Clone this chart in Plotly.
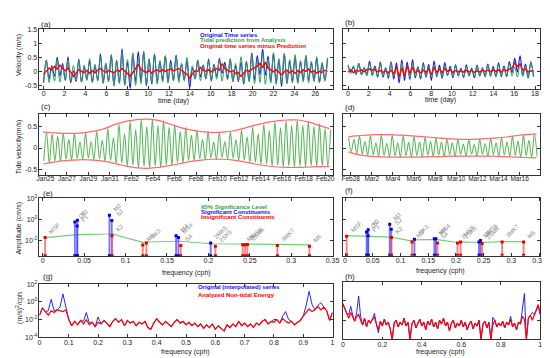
import math
import plotly.graph_objects as go

W, H = 550, 358
FONT = "Liberation Sans, Arial, sans-serif"

# ---------------- data ----------------
HALF = 0.2588  # days between successive tidal extremes (half an M2 cycle)

# (a) tidal prediction extremes [m/s], from day 0 (low, high, low, high ...)
tide_a = [-0.30, 0.40, -0.40, 0.15, -0.35, 0.42, -0.38, 0.18, -0.33, 0.40,
          -0.36, 0.20, -0.30, 0.38, -0.38, 0.22, -0.32, 0.45, -0.40, 0.25,
          -0.35, 0.52, -0.43, 0.30, -0.38, 0.60, -0.47, 0.35, -0.42, 0.70,
          -0.50, 0.42, -0.45, 0.66, -0.50, 0.45, -0.44, 0.70, -0.48, 0.42,
          -0.40, 0.60, -0.45, 0.38, -0.38, 0.55, -0.42, 0.30, -0.34, 0.52,
          -0.40, 0.25, -0.30, 0.50, -0.36, 0.20, -0.28, 0.40, -0.34, 0.18,
          -0.27, 0.38, -0.33, 0.20, -0.28, 0.42, -0.35, 0.22, -0.30, 0.45,
          -0.38, 0.28, -0.33, 0.52, -0.40, 0.32, -0.36, 0.58, -0.44, 0.38,
          -0.40, 0.65, -0.46, 0.42, -0.42, 0.66, -0.47, 0.45, -0.42, 0.64,
          -0.45, 0.42, -0.40, 0.60, -0.43, 0.38, -0.38, 0.56, -0.41, 0.35,
          -0.36, 0.52, -0.40, 0.32, -0.35, 0.48]
# (a) residual (original minus prediction) [m/s] at the same times
resid_a = [-0.10, 0.00, 0.12, 0.05, 0.18, 0.08, 0.22, 0.10, 0.02, 0.12,
           -0.05, -0.18, -0.06, 0.06, 0.00, -0.04, 0.03, -0.07, 0.02, -0.05,
           0.04, 0.10, 0.02, -0.04, 0.03, -0.02, -0.05, 0.04, 0.00, 0.10,
           0.02, -0.08, -0.17, -0.05, 0.12, 0.25, 0.06, 0.00, -0.04, 0.03,
           -0.06, 0.02, 0.05, -0.02, 0.06, 0.00, 0.04, 0.09, 0.02, 0.06,
           0.10, 0.03, -0.03, -0.10, -0.24, -0.08, 0.02, 0.00, 0.14, 0.04,
           0.00, 0.06, -0.02, 0.05, 0.10, 0.04, 0.28, 0.10, 0.04, -0.02,
           0.03, -0.08, -0.04, -0.18, -0.06, 0.04, 0.00, 0.08, 0.12, 0.18,
           0.28, 0.14, 0.32, 0.12, 0.05, -0.02, 0.06, -0.04, -0.12, -0.02,
           0.04, -0.05, 0.02, -0.08, 0.03, -0.04, 0.06, 0.00, 0.08, -0.03,
           0.02, -0.06, 0.00, -0.04, 0.04, 0.00]

# (b)/(d) tidal prediction extremes [m/s] (high, low, high, low ...)
tide_bd = [0.24, -0.08, 0.20, -0.13, 0.28, -0.14, 0.15, -0.17, 0.29, -0.16,
           0.12, -0.19, 0.30, -0.17, 0.11, -0.20, 0.30, -0.18, 0.12, -0.21,
           0.29, -0.18, 0.13, -0.21, 0.27, -0.18, 0.14, -0.21, 0.25, -0.17,
           0.15, -0.20, 0.23, -0.16, 0.14, -0.20, 0.21, -0.15, 0.12, -0.19,
           0.20, -0.14, 0.09, -0.19, 0.19, -0.14, 0.08, -0.19, 0.20, -0.14,
           0.10, -0.19, 0.22, -0.15, 0.12, -0.19, 0.24, -0.16, 0.14, -0.20,
           0.27, -0.17, 0.16, -0.21, 0.30, -0.18, 0.18, -0.22, 0.32, -0.19]
# (b) residual [m/s]
resid_b = [-0.03, 0.06, -0.05, 0.04, 0.00, 0.05, -0.02, 0.06, 0.08, 0.03,
           0.07, -0.02, 0.03, -0.04, 0.02, -0.05, 0.04, -0.10, 0.18, -0.20,
           0.12, -0.15, 0.20, -0.08, 0.15, -0.05, 0.03, -0.06, 0.05, -0.04,
           0.10, -0.12, 0.14, -0.03, 0.08, -0.05, 0.10, 0.00, 0.06, -0.04,
           0.03, -0.02, 0.02, -0.03, 0.04, -0.02, 0.03, -0.04, 0.02, -0.02,
           0.03, 0.00, 0.04, -0.02, 0.05, 0.00, 0.06, -0.03, 0.05, 0.02,
           0.08, 0.12, 0.30, 0.18, 0.25, 0.05, 0.08, -0.02, 0.02, 0.00]

# (c) tidal prediction extremes [m/s] (low, high ...) starting Jan 24.85
tide_c = [-0.30, 0.36, -0.35, 0.33, -0.30, 0.27, -0.31, 0.34, -0.26, 0.20,
          -0.28, 0.34, -0.24, 0.14, -0.27, 0.35, -0.23, 0.15, -0.28, 0.39,
          -0.25, 0.18, -0.31, 0.45, -0.29, 0.24, -0.36, 0.55, -0.35, 0.33,
          -0.42, 0.62, -0.40, 0.42, -0.46, 0.66, -0.43, 0.50, -0.47, 0.67,
          -0.42, 0.52, -0.45, 0.64, -0.39, 0.48, -0.41, 0.55, -0.34, 0.38,
          -0.35, 0.48, -0.29, 0.30, -0.30, 0.41, -0.25, 0.20, -0.28, 0.38,
          -0.23, 0.14, -0.26, 0.36, -0.22, 0.15, -0.26, 0.38, -0.24, 0.19,
          -0.29, 0.42, -0.28, 0.26, -0.33, 0.48, -0.33, 0.33, -0.38, 0.55,
          -0.37, 0.40, -0.42, 0.61, -0.40, 0.47, -0.44, 0.64, -0.42, 0.52,
          -0.45, 0.65, -0.42, 0.53, -0.44, 0.62, -0.41, 0.50, -0.43, 0.56,
          -0.41, 0.45, -0.43, 0.43]
START_C = 24.85   # day of year (Jan 24.85)
START_D = 58.80   # day of year (Feb 27.8)

# (c) envelope [m/s]
env_c_day = [24.8, 25.5, 26.5, 27.5, 28.5, 29.5, 30.5, 31.5, 32.5, 33.5, 34.5, 35.5, 36.5, 37.5,
             38.5, 39.5, 40.5, 41.5, 42.5, 43.5, 44.5, 45.5, 46.5, 47.5, 48.5, 49.5, 50.5, 51.4]
env_c_up = [0.37, 0.36, 0.34, 0.34, 0.35, 0.39, 0.45, 0.55, 0.62, 0.66, 0.67, 0.64, 0.56, 0.48,
            0.42, 0.38, 0.36, 0.37, 0.40, 0.46, 0.53, 0.59, 0.63, 0.65, 0.65, 0.60, 0.52, 0.45]
env_c_lo = [-0.37, -0.34, -0.30, -0.28, -0.27, -0.28, -0.31, -0.36, -0.42, -0.46, -0.47, -0.45, -0.41, -0.36,
            -0.31, -0.28, -0.26, -0.26, -0.28, -0.32, -0.37, -0.41, -0.44, -0.45, -0.45, -0.44, -0.43, -0.43]
# (d) envelope [m/s]
env_d_day = [58.8, 59.5, 60.5, 61.5, 62.5, 63.5, 64.5, 65.5, 66.5, 67.5, 68.5, 69.5, 70.5, 71.5,
             72.5, 73.5, 74.5, 75.5, 76.6]
env_d_up = [0.26, 0.28, 0.30, 0.31, 0.31, 0.30, 0.29, 0.27, 0.25, 0.23, 0.21, 0.20, 0.20, 0.21,
            0.23, 0.25, 0.28, 0.31, 0.33]
env_d_lo = [-0.09, -0.14, -0.18, -0.20, -0.21, -0.21, -0.21, -0.21, -0.20, -0.20, -0.19, -0.19, -0.19, -0.19,
            -0.19, -0.20, -0.21, -0.22, -0.23]

date_ticks_c = [25, 27, 29, 31, 33, 35, 37, 39, 41, 43, 45, 47, 49, 51]
date_labels_c = ["Jan25", "Jan27", "Jan29", "Jan31", "Feb2", "Feb4", "Feb6", "Feb8", "Feb10",
                 "Feb12", "Feb14", "Feb16", "Feb18", "Feb20"]
date_ticks_d = [59, 61, 63, 65, 67, 69, 71, 73, 75]
date_labels_d = ["Feb28", "Mar2", "Mar4", "Mar6", "Mar8", "Mar10", "Mar12", "Mar14", "Mar16"]

# (e)/(f) constituents
const_names = ["MSF", "O1", "P1", "K1", "M2", "S2", "K2", "M3", "SK3", "M4", "MS4", "S4",
               "2MK5", "2SK5", "M6", "2MS6", "2SM6", "3MK7", "M8"]
const_freq = [0.00282, 0.03873, 0.04155, 0.04178, 0.08051, 0.08333, 0.08356, 0.12077, 0.12511,
              0.16102, 0.16384, 0.16667, 0.20280, 0.20845, 0.24153, 0.24436, 0.24718, 0.28331, 0.32205]
amp_e = [0.020, 0.575, 0.245, 0.87, 2.51, 0.81, 0.029, 0.0040, 0.0060, 0.029, 0.020, 0.0035,
         0.0060, 0.0030, 0.0043, 0.0043, 0.0045, 0.0035, 0.0030]
sig_e = [0.020, 0.035, 0.038, 0.038, 0.044, 0.045, 0.045, 0.0071, 0.0076, 0.0089, 0.0089, 0.0089,
         0.0052, 0.0052, 0.0050, 0.0050, 0.0050, 0.0045, 0.0040]
amp_f = [0.025, 0.063, 0.028, 0.10, 0.34, 0.117, 0.019, 0.0069, 0.0126, 0.0141, 0.0141, 0.0056,
         0.0056, 0.0069, 0.0071, 0.0100, 0.0050, 0.0069, 0.0069]
sig_f = [0.028, 0.025, 0.024, 0.024, 0.021, 0.020, 0.020, 0.0087, 0.0112, 0.0126, 0.0126, 0.0120,
         0.0063, 0.0071, 0.0063, 0.0063, 0.0063, 0.0076, 0.0076]

# (g)/(h) spectra: log10 of spectral density [(m/s)^2/cph], every 0.01 cph from 0 to 1
log_red_g = [-1.5, -0.7, -1.1, -1.5, -1.0, -1.2, -0.9, -1.0, -1.1, -0.9,
             -2.0, -2.7, -2.2, -2.6, -2.1, -2.5, -2.0, -2.6, -2.3, -2.8,
             -2.3, -2.5, -2.1, -2.4, -2.8, -2.2, -1.9, -2.3, -2.0, -2.7,
             -2.1, -2.4, -2.2, -2.7, -2.3, -2.5, -2.2, -2.9, -3.1, -2.4,
             -1.9, -2.3, -2.6, -2.2, -2.5, -2.8, -2.3, -2.0, -2.4, -2.2,
             -2.6, -2.3, -2.7, -2.4, -2.8, -2.5, -3.0, -2.6, -2.9, -2.5,
             -3.1, -2.7, -3.0, -3.3, -2.6, -2.9, -2.5, -2.8, -2.2, -2.7,
             -2.4, -2.8, -2.5, -2.9, -2.4, -2.6, -2.2, -2.0, -2.5, -2.2,
             -2.3, -2.0, -2.4, -1.9, -2.2, -2.4, -2.2, -2.6, -2.3, -2.1,
             -1.6, -1.2, -0.8, -1.1, -0.9, -0.5, -0.9, -0.6, -1.0, -2.1,
             -1.2]
log_blue_g = [-1.5, -0.7, -1.1, -1.0, 0.3, -1.0, -0.9, -0.6, 0.9, -0.7,
              -2.0, -2.7, -2.2, -2.6, -2.1, -2.2, -1.2, -2.4, -2.3, -2.8,
              -1.7, -2.5, -2.1, -2.4, -2.8, -2.2, -1.9, -2.3, -2.0, -2.7,
              -2.1, -2.4, -2.2, -2.7, -2.3, -2.5, -2.2, -2.9, -3.1, -2.4,
              -1.9, -2.3, -2.6, -2.2, -2.5, -2.8, -2.3, -2.0, -2.4, -2.2,
              -2.6, -2.3, -2.7, -2.4, -2.8, -2.5, -3.0, -2.6, -2.9, -2.5,
              -3.1, -2.7, -3.0, -3.3, -2.6, -2.9, -2.5, -2.8, -2.2, -2.7,
              -2.4, -2.8, -2.5, -2.9, -2.4, -2.6, -2.2, -2.0, -2.5, -2.2,
              -2.0, -2.0, -2.4, -1.6, -1.1, -2.0, -2.2, -2.6, -2.3, -2.1,
              -1.6, -0.4, 1.2, -0.3, -0.9, -0.4, -0.1, -0.5, -1.0, -2.1,
              -1.2]
log_red_h = [-0.3, -0.8, -1.3, -1.8, -1.2, -1.7, -2.1, -1.6, -1.4, -2.0,
             -2.5, -1.8, -2.7, -2.0, -2.3, -1.9, -1.7, -2.4, -3.0, -2.1,
             -2.6, -1.9, -2.5, -2.2, -2.9, -4.0, -2.3, -2.0, -2.7, -2.2,
             -2.5, -1.8, -2.6, -2.2, -4.0, -2.4, -2.0, -2.8, -2.3, -1.9,
             -2.6, -2.2, -3.0, -2.1, -2.5, -1.9, -2.7, -2.2, -2.9, -2.0,
             -2.4, -1.8, -2.6, -2.2, -3.1, -2.3, -2.0, -2.8, -2.3, -2.6,
             -2.0, -2.7, -2.2, -3.0, -2.4, -2.1, -2.9, -2.3, -2.6, -2.0,
             -4.0, -2.4, -2.1, -2.8, -2.2, -4.0, -2.5, -2.0, -2.7, -2.3,
             -2.6, -2.1, -2.8, -2.2, -2.5, -1.9, -2.7, -2.3, -3.0, -2.2,
             -2.4, -1.6, -1.9, -4.0, -1.8, -1.5, -2.0, -1.4, -1.0, -0.4,
             -1.4]
log_blue_h = [-0.3, -0.8, -1.3, -1.4, -0.57, -1.5, -2.1, -1.2, 0.5, -1.6,
              -2.5, -1.8, -2.7, -2.0, -2.3, -1.9, -1.3, -2.4, -3.3, -2.1,
              -2.6, -1.9, -2.5, -2.2, -2.9, -4.0, -2.3, -2.0, -2.7, -2.2,
              -2.5, -1.8, -2.6, -2.2, -4.0, -2.4, -2.0, -2.8, -2.3, -1.9,
              -2.6, -2.2, -3.0, -2.1, -2.5, -1.9, -2.7, -2.2, -2.9, -2.0,
              -2.4, -1.8, -2.6, -2.2, -3.1, -2.3, -2.0, -2.8, -2.3, -2.6,
              -2.0, -2.7, -2.2, -3.0, -2.4, -2.1, -2.9, -2.3, -2.6, -2.0,
              -4.0, -2.4, -2.1, -2.8, -2.2, -4.0, -1.7, -2.0, -2.7, -2.3,
              -2.6, -2.1, -2.8, -2.2, -2.5, -1.6, -2.7, -2.3, -3.0, -2.2,
              -2.4, -1.0, 0.76, -4.0, -1.8, -1.5, -1.2, -1.4, -1.0, -0.4,
              -1.4]

# ---------------- derived sample times ----------------
t_a = [k * HALF for k in range(len(tide_a))]
orig_a = [g + r for g, r in zip(tide_a, resid_a)]
t_b = [k * HALF for k in range(len(tide_bd))]
orig_b = [g + r for g, r in zip(tide_bd, resid_b)]
t_c = [START_C + k * HALF for k in range(len(tide_c))]
t_d = [START_D + k * HALF for k in range(len(tide_bd))]
f_grid = [i / 100 for i in range(len(log_red_g))]

BLUE = "#1010ff"
GREEN_A = "#3a9e55"
RED = "#ff0000"
GREEN_C = "#5cb85c"
ENV = "#ff6b6b"

fig = go.Figure()


def line(x, y, ax, color, width, shape="linear", opacity=1.0):
    fig.add_trace(go.Scatter(x=x, y=y, xaxis="x" + ax, yaxis="y" + ax, mode="lines",
                             line=dict(color=color, width=width, shape=shape, smoothing=1.0),
                             opacity=opacity, showlegend=False, hoverinfo="skip"))


# (a)
line(t_a, orig_a, "", BLUE, 1.1, "spline")
line(t_a, tide_a, "", GREEN_A, 1.0, "spline")
line(t_a, resid_a, "", RED, 1.4)
# (b)
line(t_b, orig_b, "2", BLUE, 1.1, "spline")
line(t_b, tide_bd, "2", GREEN_A, 1.0, "spline")
line(t_b, resid_b, "2", RED, 1.4)
# (c)
line(t_c, tide_c, "3", GREEN_C, 1.1, "spline")
line(env_c_day, env_c_up, "3", ENV, 1.2, "spline")
line(env_c_day, env_c_lo, "3", ENV, 1.2, "spline")
# (d)
line(t_d, tide_bd, "4", GREEN_C, 1.1, "spline")
line(env_d_day, env_d_up, "4", ENV, 1.2, "spline")
line(env_d_day, env_d_lo, "4", ENV, 1.2, "spline")

# (e)/(f)
FLOOR = 10 ** -3.42
annots = []


def stems(amp, sig, ax):
    line(const_freq, sig, ax, "#7cc97c", 1.2)
    for significant, lc, mc in ((True, "rgba(70,70,255,0.75)", "#0000dd"),
                                (False, "rgba(255,80,80,0.75)", "#e00000")):
        xs, ys, mx, my = [], [], [], []
        for f, a, s in zip(const_freq, amp, sig):
            if (a > s) == significant:
                xs += [f, f, None]
                ys += [FLOOR, a, None]
                mx += [f, f]
                my += [FLOOR, a]
        line(xs, ys, ax, lc, 1.8)
        fig.add_trace(go.Scatter(x=mx, y=my, xaxis="x" + ax, yaxis="y" + ax, mode="markers",
                                 marker=dict(symbol="square", size=3, color=mc),
                                 showlegend=False, hoverinfo="skip"))
    for name, f, a in zip(const_names, const_freq, amp):
        annots.append(dict(x=f, y=math.log10(a), xref="x" + ax, yref="y" + ax, text=name,
                           textangle=-45, xanchor="left", yanchor="bottom", showarrow=False,
                           font=dict(size=6, color="#8a8a8a", family=FONT)))


stems(amp_e, sig_e, "5")
stems(amp_f, sig_f, "6")

# (g)/(h)
line(f_grid, [10 ** v for v in log_blue_g], "7", BLUE, 0.9)
line(f_grid, [10 ** v for v in log_red_g], "7", RED, 1.2)
line(f_grid, [10 ** v for v in log_blue_h], "8", BLUE, 0.9)
line(f_grid, [10 ** v for v in log_red_h], "8", RED, 1.2)


# ---------------- layout ----------------
def dx(l, r):
    return [l / W, r / W]


def dy(t, b):
    return [1 - b / H, 1 - t / H]


base = dict(showline=True, linecolor="#333333", linewidth=0.8, mirror="ticks", ticks="inside",
            ticklen=3, tickwidth=0.7, tickcolor="#333333", showgrid=False, zeroline=False,
            tickfont=dict(size=7, color="#1a1a1a", family=FONT))


def ax(**kw):
    d = dict(base)
    d.update(kw)
    return d


def xax(**kw):
    d = ax(tickangle=0, ticklabelstandoff=-2)
    d.update(kw)
    return d


LX, RX = dx(29, 328), dx(338, 539)
pw10 = lambda e: "10<sup>%d</sup>" % e
small = dict(size=6.5, color="#1a1a1a", family=FONT)

layout = dict(
    width=W, height=H, margin=dict(l=0, r=0, t=0, b=0),
    paper_bgcolor="white", plot_bgcolor="white", font=dict(family=FONT),
    xaxis=xax(domain=LX, anchor="y", range=[-0.4, 27.7], tickvals=list(range(0, 27, 2))),
    yaxis=ax(domain=dy(17.5, 78.3), anchor="x", range=[-0.62, 1.5],
             tickvals=[-0.5, 0, 0.5, 1, 1.5], ticktext=["-0.5", "0", "0.5", "1", "1.5"]),
    xaxis2=xax(domain=RX, anchor="y2", range=[-0.5, 18.5], tickvals=list(range(0, 19, 2))),
    yaxis2=ax(domain=dy(17.5, 78.3), anchor="x2", range=[-0.62, 1.5],
              tickvals=[-0.5, 0, 0.5, 1, 1.5], showticklabels=False),
    xaxis3=xax(domain=LX, anchor="y3", range=[24.45, 51.73], tickvals=date_ticks_c,
               ticktext=date_labels_c, tickfont=small),
    yaxis3=ax(domain=dy(104, 166), anchor="x3", range=[-0.62, 0.79],
              tickvals=[-0.5, 0, 0.5], ticktext=["-0.5", "0", "0.5"]),
    xaxis4=xax(domain=RX, anchor="y4", range=[58.26, 76.95], tickvals=date_ticks_d,
               ticktext=date_labels_d, tickfont=small),
    yaxis4=ax(domain=dy(104, 166), anchor="x4", range=[-0.62, 0.79],
              tickvals=[-0.5, 0, 0.5], showticklabels=False),
    xaxis5=xax(domain=dx(29, 327.5), anchor="y5", range=[-0.004, 0.35],
               tickvals=[0, 0.05, 0.1, 0.15, 0.2, 0.25, 0.3, 0.35],
               ticktext=["0", "0.05", "0.1", "0.15", "0.2", "0.25", "0.3", "0.35"]),
    yaxis5=ax(domain=dy(190, 249), anchor="x5", type="log", range=[-3.45, 2],
              tickvals=[1e-2, 1, 1e2], ticktext=[pw10(-2), pw10(0), pw10(2)]),
    xaxis6=xax(domain=RX, anchor="y6", range=[-0.004, 0.352],
               tickvals=[0, 0.05, 0.1, 0.15, 0.2, 0.25, 0.3, 0.35],
               ticktext=["0", "0.05", "0.1", "0.15", "0.2", "0.25", "0.3", "0.35"]),
    yaxis6=ax(domain=dy(190, 248.5), anchor="x6", type="log", range=[-3.45, 2],
              tickvals=[1e-2, 1, 1e2], showticklabels=False),
    xaxis7=xax(domain=dx(29, 327.5), anchor="y7", range=[0, 1],
               tickvals=[i / 10 for i in range(11)],
               ticktext=["0", "0.1", "0.2", "0.3", "0.4", "0.5", "0.6", "0.7", "0.8", "0.9", "1"]),
    yaxis7=ax(domain=dy(277.7, 331.7), anchor="x7", type="log", range=[-4, 2],
              tickvals=[1e-4, 1e-2, 1, 1e2], ticktext=[pw10(-4), pw10(-2), pw10(0), pw10(2)]),
    xaxis8=xax(domain=RX, anchor="y8", range=[0, 1],
               tickvals=[0, 0.2, 0.4, 0.6, 0.8, 1], ticktext=["0", "0.2", "0.4", "0.6", "0.8", "1"]),
    yaxis8=ax(domain=dy(275, 334), anchor="x8", type="log", range=[-4, 2],
              tickvals=[1e-4, 1e-2, 1, 1e2], showticklabels=False),
)


def txt(x, y, s, size=7, color="#1a1a1a", angle=0, xa="center", ya="middle", bold=False):
    annots.append(dict(x=x / W, y=1 - y / H, xref="paper", yref="paper",
                       text=("<b>%s</b>" % s) if bold else s, textangle=angle,
                       xanchor=xa, yanchor=ya, showarrow=False,
                       font=dict(size=size, color=color, family=FONT)))


# panel letters
for s, x, y in (("(a)", 29, 12.5), ("(b)", 338, 11), ("(c)", 29, 96), ("(d)", 338, 97),
                ("(e)", 31, 185), ("(f)", 338, 182), ("(g)", 31, 270), ("(h)", 338, 270)):
    txt(x, y, s, size=8, xa="left")

# axis titles
txt(8, 44, "Velocity (m/s)", angle=-90)
txt(165, 90.5, "time (day)")
txt(437, 90, "time (day)")
txt(8, 137, "Tide velocity(m/s)", angle=-90)
txt(8, 220, "Amplitude (cm/s)", angle=-90)
txt(179, 266.5, "frequency (cph)")
txt(437, 264, "frequency (cph)")
txt(8, 302, "(m/s)<sup>2</sup>/cph", angle=-90)
txt(178, 347, "frequency (cph)")
txt(437, 347, "frequency (cph)")

# legends
txt(190, 23.5, "Original Time series", size=6, color=BLUE, xa="left", bold=True)
txt(190, 29, "Tidal prediction from Analysis", size=6, color="#35a046", xa="left", bold=True)
txt(190, 34.5, "Original time series minus Prediction", size=6, color=RED, xa="left", bold=True)
txt(191, 198.5, "95% Significance Level", size=6, color="#35a046", xa="left", bold=True)
txt(191, 204, "Significant Constituents", size=6, color=BLUE, xa="left", bold=True)
txt(191, 209.5, "Insignificant Constituents", size=6, color=RED, xa="left", bold=True)
txt(188, 280, "Original (interpolated) series", size=6, color=BLUE, xa="left", bold=True)
txt(188, 288.5, "Analyzed Non-tidal Energy", size=6, color=RED, xa="left", bold=True)

layout["annotations"] = annots
fig.update_layout(**layout)
fig.write_html("out.html")
